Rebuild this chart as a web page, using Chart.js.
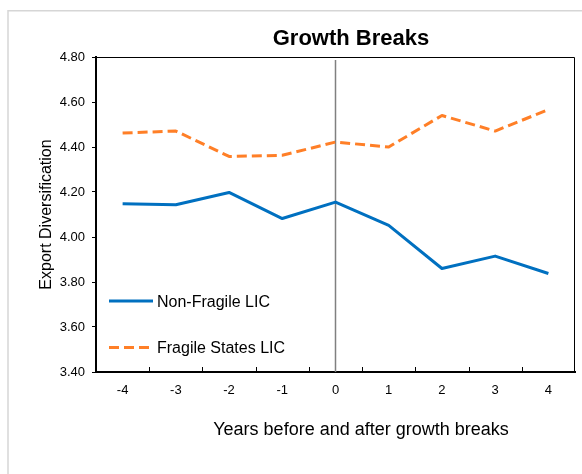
<!DOCTYPE html>
<html>
<head>
<meta charset="utf-8">
<style>
  html, body { margin: 0; padding: 0; background: #ffffff; }
  canvas { display: block; }
</style>
<script src="https://cdn.jsdelivr.net/npm/chart.js@4.4.1/dist/chart.umd.min.js"></script>
</head>
<body>
<canvas id="c" width="582" height="474"></canvas>
<script>
// ---- data ----
const categories = ['-4', '-3', '-2', '-1', '0', '1', '2', '3', '4'];
const nonFragileLIC = [4.148, 4.143, 4.198, 4.082, 4.155, 4.052, 3.860, 3.915, 3.838];
const fragileStatesLIC = [4.462, 4.471, 4.358, 4.363, 4.422, 4.400, 4.540, 4.471, 4.566];
const seriesNames = ['Non-Fragile LIC', 'Fragile States LIC'];
const yTicks = { min: 3.4, max: 4.8, step: 0.2 };
const chartTitle = 'Growth Breaks';
const xTitle = 'Years before and after growth breaks';
const yTitle = 'Export Diversification';
const breakCategory = '0';

const FONT = "'Liberation Sans', Arial, Helvetica, sans-serif";
Chart.defaults.font.family = FONT;
Chart.defaults.color = '#000000';

const BLUE = '#0070C0';
const ORANGE = '#FF7F27';

const decorPlugin = {
  id: 'decor',
  beforeDraw(chart) {
    const ctx = chart.ctx;
    ctx.save();
    ctx.fillStyle = '#ffffff';
    ctx.fillRect(0, 0, chart.width, chart.height);
    // outer light frame (clipped on right/bottom)
    ctx.strokeStyle = '#d6d6d6';
    ctx.lineWidth = 1.5;
    ctx.beginPath();
    ctx.moveTo(8, chart.height + 5);
    ctx.lineTo(8, 10.75);
    ctx.lineTo(chart.width + 5, 10.75);
    ctx.stroke();
    ctx.restore();
  },
  beforeDatasetsDraw(chart) {
    const ctx = chart.ctx;
    const a = chart.chartArea;
    const xs = chart.scales.x;
    const x0 = xs.getPixelForValue(categories.indexOf(breakCategory));
    ctx.save();
    ctx.strokeStyle = '#808080';
    ctx.lineWidth = 1.5;
    ctx.beginPath();
    ctx.moveTo(x0, a.top + 3);
    ctx.lineTo(x0, a.bottom);
    ctx.stroke();
    ctx.restore();
  },
  afterDraw(chart) {
    const ctx = chart.ctx;
    const a = chart.chartArea;
    const xs = chart.scales.x;
    ctx.save();
    // thin top/right border of plot
    ctx.strokeStyle = '#000000';
    ctx.lineWidth = 1;
    ctx.beginPath();
    ctx.moveTo(a.left, a.top + 0.5);
    ctx.lineTo(a.right - 0.5, a.top + 0.5);
    ctx.lineTo(a.right - 0.5, a.bottom);
    ctx.stroke();
    // inside x tick marks at category boundaries
    ctx.lineWidth = 1;
    const n = categories.length;
    for (let i = 1; i < n; i++) {
      const xb = Math.round((xs.getPixelForValue(i - 1) + xs.getPixelForValue(i)) / 2) + 0.5;
      ctx.beginPath();
      ctx.moveTo(xb, a.bottom);
      ctx.lineTo(xb, a.bottom - 5);
      ctx.stroke();
    }
    // title
    ctx.fillStyle = '#000000';
    ctx.font = 'bold 22px ' + FONT;
    ctx.textAlign = 'center';
    ctx.textBaseline = 'alphabetic';
    ctx.fillText(chartTitle, 351, 45);
    // x title
    ctx.font = '18px ' + FONT;
    ctx.fillText(xTitle, 361, 435);
    // y title
    ctx.save();
    ctx.translate(47, (a.top + a.bottom) / 2);
    ctx.rotate(-Math.PI / 2);
    ctx.font = '16px ' + FONT;
    ctx.textBaseline = 'middle';
    ctx.fillText(yTitle, 0, 0);
    ctx.restore();
    // legend
    const legendY = [301, 347.5];
    chart.data.datasets.forEach((ds, i) => {
      const y = legendY[i];
      ctx.save();
      ctx.strokeStyle = ds.borderColor;
      ctx.lineWidth = ds.borderWidth;
      ctx.setLineDash(ds.borderDash || []);
      ctx.beginPath();
      ctx.moveTo(109, y);
      ctx.lineTo(153, y);
      ctx.stroke();
      ctx.restore();
      ctx.fillStyle = '#000000';
      ctx.font = '16px ' + FONT;
      ctx.textAlign = 'left';
      ctx.textBaseline = 'middle';
      ctx.fillText(ds.label, 157, y + 1.5);
    });
    ctx.restore();
  }
};

new Chart(document.getElementById('c'), {
  type: 'line',
  data: {
    labels: categories,
    datasets: [
      {
        label: seriesNames[0],
        data: nonFragileLIC,
        borderColor: BLUE,
        backgroundColor: BLUE,
        borderWidth: 3,
        pointRadius: 0,
        tension: 0,
        borderJoinStyle: 'round'
      },
      {
        label: seriesNames[1],
        data: fragileStatesLIC,
        borderColor: ORANGE,
        backgroundColor: ORANGE,
        borderWidth: 3,
        borderDash: [10, 5],
        pointRadius: 0,
        tension: 0,
        borderJoinStyle: 'round'
      }
    ]
  },
  options: {
    responsive: false,
    animation: false,
    devicePixelRatio: 1,
    layout: { padding: { top: 57, right: 7, left: 0, bottom: 0 } },
    plugins: {
      legend: { display: false },
      title: { display: false },
      tooltip: { enabled: false }
    },
    scales: {
      x: {
        type: 'category',
        offset: true,
        grid: { display: false, drawTicks: false },
        border: { display: true, color: '#000000', width: 2 },
        ticks: { padding: 11, font: { size: 13 }, color: '#000000', maxRotation: 0 },
        afterFit(scale) { scale.height = 102; }
      },
      y: {
        min: yTicks.min,
        max: yTicks.max,
        grid: { drawOnChartArea: false, drawTicks: true, tickLength: 4, color: '#000000', lineWidth: 1 },
        border: { display: true, color: '#000000', width: 2 },
        ticks: {
          stepSize: yTicks.step,
          padding: 7,
          font: { size: 13 },
          color: '#000000',
          callback: (v) => Number(v).toFixed(2)
        },
        afterFit(scale) { scale.width = 96; }
      }
    }
  },
  plugins: [decorPlugin]
});
</script>
</body>
</html>
